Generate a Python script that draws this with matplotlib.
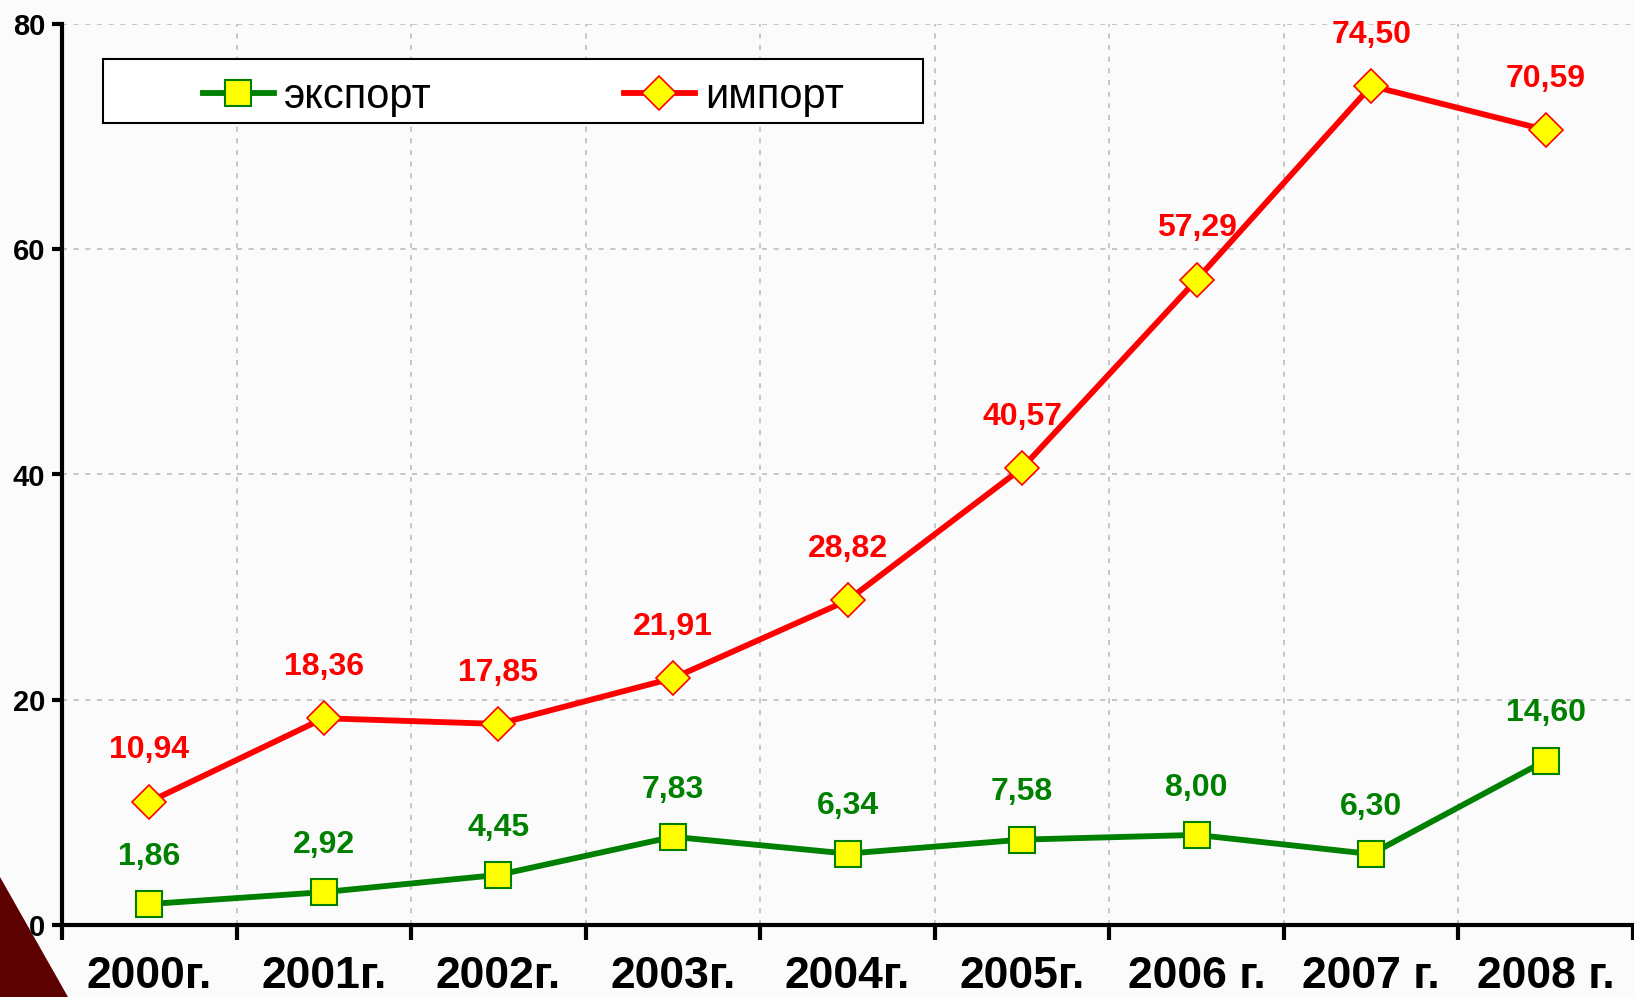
import matplotlib
matplotlib.use("Agg")
import matplotlib.pyplot as plt
import numpy as np
from matplotlib.patches import Polygon, Rectangle

years = ["2000г.", "2001г.", "2002г.", "2003г.", "2004г.", "2005г.", "2006 г.", "2007 г.", "2008 г."]
export_vals = [1.86, 2.92, 4.45, 7.83, 6.34, 7.58, 8.00, 6.30, 14.60]
import_vals = [10.94, 18.36, 17.85, 21.91, 28.82, 40.57, 57.29, 74.50, 70.59]
yticks = [0, 20, 40, 60, 80]

plt.rcParams['font.family'] = ['Liberation Sans', 'DejaVu Sans']

W, H = 1634, 997
fig = plt.figure(figsize=(W / 100, H / 100), dpi=100, facecolor='#fbfbfb')
ax = fig.add_axes([62 / W, 72 / H, (1633 - 62) / W, (925 - 24) / H])
ax.set_facecolor('none')

# dark red corner decoration
fig.patches.append(Polygon([[0, 0], [0, 120 / H], [68 / W, 0]], closed=True,
                           transform=fig.transFigure, facecolor='#5c0000', edgecolor='none', zorder=0))

x = np.arange(len(years))
gc = '#bdbdbd'
ax.plot(x, export_vals, color='#008000', lw=4.2, marker='s', ms=19, mfc='yellow', mec='#008000', mew=1.5,
        label='экспорт', zorder=4, clip_on=False)
ax.plot(x, import_vals, color='#ff0000', lw=4.2, marker='D', ms=17, mfc='yellow', mec='#ff0000', mew=1.2,
        label='импорт', zorder=4, clip_on=False)

for xi, v in zip(x, export_vals):
    ax.annotate(f"{v:.2f}".replace('.', ','), (xi, v), xytext=(0, 34), textcoords='offset points',
                ha='center', va='center', fontsize=23, fontweight='bold', color='#008000', annotation_clip=False)
for xi, v in zip(x, import_vals):
    ax.annotate(f"{v:.2f}".replace('.', ','), (xi, v), xytext=(0, 37), textcoords='offset points',
                ha='center', va='center', fontsize=23, fontweight='bold', color='#ff0000', annotation_clip=False)

ax.set_xlim(-0.5, len(years) - 0.5)
ax.set_ylim(0, 80)

# grid
for b in np.arange(0.5, len(years) - 0.5, 1.0):
    ax.axvline(b, color=gc, lw=1.2, ls=(0, (3, 4)), zorder=1)
for t in yticks[1:]:
    ax.axhline(t, color=gc, lw=1.2, ls=(0, (3, 4)), zorder=1)

ax.spines['top'].set_visible(False)
ax.spines['right'].set_visible(False)
ax.spines['left'].set_linewidth(3)
ax.spines['bottom'].set_linewidth(3)

ax.set_yticks(yticks)
ax.set_yticklabels([str(t) for t in yticks], fontsize=21, fontweight='bold')
ax.tick_params(axis='y', length=7, width=3, pad=5)

ax.set_xticks(np.arange(-0.5, len(years), 1.0))
ax.set_xticklabels([])
ax.tick_params(axis='x', which='major', length=11, width=3, direction='out')
ax.set_xticks(x, minor=True)
ax.set_xticklabels(years, minor=True, fontsize=32, fontweight='bold')
ax.tick_params(axis='x', which='minor', length=0, pad=22)

# legend frame and entries
fig.patches.append(Rectangle((103 / W, 1 - 123 / H), (923 - 103) / W, 64 / H, transform=fig.transFigure,
                             facecolor='white', edgecolor='black', lw=1.5, zorder=2))
leg = fig.legend(loc='center left', bbox_to_anchor=(203 / W, 1 - 97 / H), ncol=2, frameon=False,
                 fontsize=30, handlelength=1.7, handletextpad=0.25, columnspacing=4.6,
                 borderpad=0, borderaxespad=0, numpoints=1)
leg.set_zorder(3)

fig.savefig('out.png', dpi=100, facecolor=fig.get_facecolor())
